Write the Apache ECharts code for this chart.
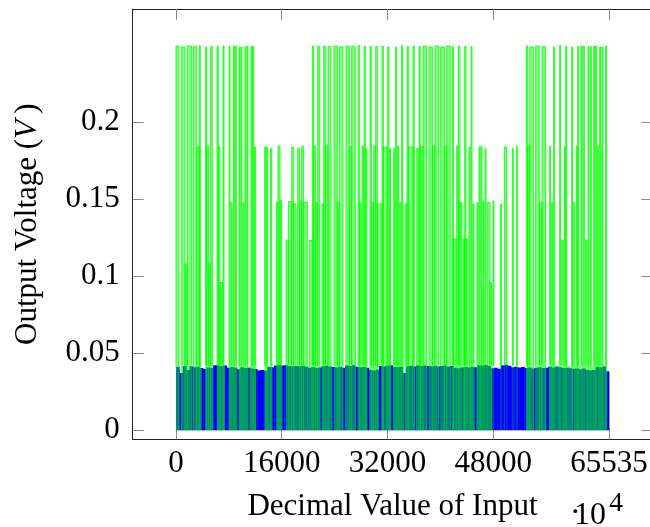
<!DOCTYPE html>
<html>
<head>
<meta charset="utf-8">
<script src="https://cdn.jsdelivr.net/npm/echarts@6/dist/echarts.min.js"></script>
<style>
html,body{margin:0;padding:0;background:#fff;}
#chart{width:650px;height:527px;}
</style>
</head>
<body>
<div id="chart"></div>
<script>
// ---------- data ----------
const xTicks = [0, 16000, 32000, 48000, 65535];
const xTickLabels = ['0', '16000', '32000', '48000', '65535'];
const yTicks = [0, 0.05, 0.1, 0.15, 0.2];
const yTickLabels = ['0', '0.05', '0.1', '0.15', '0.2'];

// blue series: output level per block of 512 input codes
const blueStep = 512;
const blueVolts = [
0.0413,0.0372,0.0418,0.0392,0.0416,0.0409,0.0412,0.0404,0.0398,0.0408,
0.0405,0.0423,0.0420,0.0418,0.0421,0.0406,0.0411,0.0408,0.0396,0.0409,
0.0404,0.0407,0.0401,0.0398,0.0388,0.0392,0.0386,0.0411,0.0409,0.0421,
0.0424,0.0420,0.0423,0.0417,0.0414,0.0418,0.0416,0.0419,0.0413,0.0406,
0.0409,0.0404,0.0408,0.0416,0.0419,0.0414,0.0411,0.0408,0.0412,0.0406,
0.0421,0.0418,0.0422,0.0412,0.0409,0.0411,0.0406,0.0391,0.0388,0.0393,
0.0417,0.0414,0.0419,0.0422,0.0411,0.0409,0.0413,0.0372,0.0416,0.0419,
0.0415,0.0420,0.0417,0.0421,0.0418,0.0416,0.0419,0.0414,0.0417,0.0420,
0.0415,0.0418,0.0406,0.0403,0.0408,0.0411,0.0408,0.0413,0.0409,0.0423,
0.0420,0.0424,0.0418,0.0403,0.0407,0.0400,0.0422,0.0425,0.0419,0.0410,
0.0413,0.0408,0.0411,0.0405,0.0408,0.0402,0.0407,0.0409,0.0404,0.0406,
0.0412,0.0408,0.0414,0.0409,0.0404,0.0407,0.0403,0.0399,0.0402,0.0397,
0.0401,0.0391,0.0388,0.0392,0.0413,0.0410,0.0415,0.0383
];

// green series: low plateau under each burst [start, end, volts]
const greenBase = [
[0,454,0.042],[757,2371,0.042],[2523,3834,0.042],[4440,5550,0.042],[6205,7366,0.042],
[7971,9232,0.042],[9485,10897,0.042],[11099,12058,0.042],[13420,14530,0.042],[15185,16043,0.042],
[16649,18313,0.042],[18414,20180,0.042],[20230,21845,0.042],[22097,23611,0.042],[23913,25275,0.042],
[25629,27142,0.042],[27495,28908,0.042],[29261,30674,0.042],[31077,32540,0.042],[32850,34450,0.042],
[34600,36150,0.042],[36350,38000,0.042],[38250,39800,0.042],[40000,41600,0.042],[41750,43350,0.042],
[43450,45150,0.042],[45450,46700,0.042],[46760,47800,0.042],[53000,54150,0.042],[54400,56000,0.042],
[56450,58250,0.042],[58371,60050,0.042],[60200,61850,0.042],[62000,63700,0.042],[63800,65181,0.042]
];

// green series: pulses [start, end, volts]
const greenPulses = [
[0,454,0.2495],
[858,1362,0.2489],[1362,1715,0.108],[1715,2371,0.2495],
[2623,3128,0.2492],[3128,3532,0.184],[3532,3683,0.2498],
[4440,4641,0.2489],[4641,4944,0.1845],[4944,5247,0.108],[5247,5499,0.2492],
[6205,6407,0.2492],[6407,6659,0.184],[6659,7063,0.096],[7113,7265,0.2495],
[8022,8173,0.2495],[8324,8476,0.148],[8677,8829,0.2495],[8980,9131,0.2495],[9535,9686,0.2489],
[9838,9989,0.2489],[10140,10292,0.148],[10443,10595,0.2492],[10746,10897,0.2492],[11351,11503,0.2492],
[11604,11755,0.2492],[11906,12058,0.184],
[13420,13571,0.184],[13722,13874,0.184],[14328,14479,0.183],
[15185,15438,0.148],[15438,15740,0.1845],[15740,15993,0.149],
[16649,17002,0.1235],[17002,17506,0.1485],[17506,17809,0.184],[17809,18162,0.147],
[18414,18717,0.183],[18717,19020,0.149],[19020,19322,0.1845],[19322,19877,0.148],
[20230,20634,0.1235],[20634,20836,0.2495],[20836,21139,0.1845],[21139,21441,0.148],[21441,21744,0.2492],
[22097,22349,0.147],[22349,22602,0.2495],[22602,23005,0.1845],[23005,23459,0.2492],
[23913,24418,0.2495],[24418,24721,0.148],[24721,25275,0.2489],
[25730,26234,0.2495],[26234,26587,0.184],[26587,27142,0.2492],
[27546,27748,0.25],[27798,28000,0.148],[28151,28353,0.1845],[28454,28656,0.2492],[28706,28908,0.183],
[29362,29564,0.2492],[29564,29917,0.148],[29917,30220,0.1845],[30220,30472,0.2492],[30472,31178,0.147],
[31178,31380,0.2495],[31380,31935,0.184],
[32036,32238,0.2489],[32338,32490,0.183],
[32944,33095,0.183],[33247,33398,0.2489],[33549,33701,0.1845],[33852,34003,0.148],[34155,34306,0.25],
[34659,34962,0.147],[34962,35164,0.2492],[35164,35870,0.184],[35870,36072,0.2495],
[36425,36778,0.183],[36778,36980,0.2492],[36980,37383,0.1845],[37383,37938,0.2495],
[38292,38796,0.2489],[38796,39200,0.1845],[39200,39755,0.2495],
[40057,40612,0.2489],[40612,40965,0.1845],[40965,41520,0.2495],
[41823,41974,0.2492],[41974,42378,0.1243],
[42479,42731,0.1845],[42731,42983,0.2495],[42983,43286,0.148],
[43488,43690,0.1243],[43690,43892,0.2492],[43892,44144,0.1243],
[44346,44497,0.184],[44648,44800,0.2492],[44951,45102,0.147],[45556,45708,0.148],
[45859,46010,0.184],[46162,46313,0.1845],[46464,46616,0.149],
[46767,46919,0.183],[47120,47524,0.148],[47524,47776,0.096],
[47978,48129,0.149],[49088,49239,0.147],
[49693,50046,0.184],[50904,51055,0.183],[51509,51661,0.1845],
[53023,53225,0.2495],[53225,53527,0.1845],[53527,54082,0.2489],
[54436,54991,0.2495],[54991,55394,0.148],[55394,55949,0.2492],
[56554,56706,0.1845],[56857,57009,0.148],[57160,57311,0.2489],[58068,58219,0.25],
[58371,58623,0.1235],
[58774,58926,0.1845],[58976,59127,0.2492],[59884,60035,0.2489],[60035,60338,0.148],
[60590,60742,0.1845],[60792,60944,0.2492],[61297,61448,0.2495],[61599,61801,0.2495],
[62003,62205,0.1235],
[62356,62508,0.2492],[62709,62861,0.2492],[63213,63365,0.2495],[63517,63668,0.2495],
[63819,63971,0.1845],[64122,64273,0.2489],[64475,64626,0.2489],[65030,65181,0.2495]
];

// ---------- build ----------
const blueData = blueVolts.map((v, i) => [i * blueStep, Math.min((i + 1) * blueStep, 65535), v]);
const BASE = 0.042;

const FONT = 'Liberation Serif';
const chart = echarts.init(document.getElementById('chart'), null, {renderer: 'canvas'});

function rectItem(api, fill, y0val) {
  const x0 = api.value(0), x1 = api.value(1), h = api.value(2);
  const a = api.coord([x0, h]);
  const b = api.coord([x1, y0val]);
  return {
    type: 'rect',
    shape: {x: a[0], y: a[1], width: Math.max(b[0] - a[0], 0.5) + 0.4, height: b[1] - a[1]},
    style: {fill: fill}
  };
}

const xMin = -6553.5, xMax = 72088.5;
const yMin = -0.00584, yMax = 0.27357;

const axisLineStyle = {color: '#222', width: 1};
const tickStyle = {color: '#8a8a8a', width: 1};

const option = {
  animation: false,
  backgroundColor: '#fff',
  grid: {left: 132.7, right: -2.3, top: 9, bottom: 87.7, containLabel: false, outerBoundsMode: 'none'},
  xAxis: [{
    type: 'value', min: xMin, max: xMax, position: 'bottom',
    axisLine: {show: true, onZero: false, lineStyle: axisLineStyle},
    axisTick: {show: true, inside: true, length: 11, customValues: xTicks, lineStyle: tickStyle},
    axisLabel: {show: true, customValues: xTicks, formatter: v => xTickLabels[xTicks.indexOf(v)],
      fontFamily: FONT, fontSize: 31, color: '#000', margin: 9, hideOverlap: false},
    splitLine: {show: false},
    name: 'Decimal Value of Input', nameLocation: 'middle', nameGap: 52,
    nameTextStyle: {fontFamily: FONT, fontSize: 31, color: '#000'}
  }, {
    type: 'value', min: xMin, max: xMax, position: 'top',
    axisLine: {show: true, onZero: false, lineStyle: axisLineStyle},
    axisTick: {show: true, inside: true, length: 11, customValues: xTicks, lineStyle: tickStyle},
    axisLabel: {show: false}, splitLine: {show: false}
  }],
  yAxis: [{
    type: 'value', min: yMin, max: yMax, position: 'left',
    axisLine: {show: true, onZero: false, lineStyle: axisLineStyle},
    axisTick: {show: true, inside: true, length: 11, customValues: yTicks, lineStyle: tickStyle},
    axisLabel: {show: true, customValues: yTicks, formatter: v => yTickLabels[yTicks.indexOf(v)],
      fontFamily: FONT, fontSize: 31, color: '#000', margin: 13, hideOverlap: false},
    splitLine: {show: false},
    name: 'Output Voltage ({i|V}\u2009)', nameLocation: 'middle', nameGap: 89, nameRotate: 90,
    nameTextStyle: {fontFamily: FONT, fontSize: 31, color: '#000',
      rich: {i: {fontFamily: FONT, fontSize: 31, fontStyle: 'italic', color: '#000'}}}
  }, {
    type: 'value', min: yMin, max: yMax, position: 'right',
    axisLine: {show: true, onZero: false, lineStyle: axisLineStyle},
    axisTick: {show: true, inside: true, length: 11, customValues: yTicks, lineStyle: tickStyle},
    axisLabel: {show: false}, splitLine: {show: false}
  }],
  graphic: [
    {type: 'text', left: 570, top: 498, style: {text: '\u00b7', font: '32px "Liberation Serif"', fill: '#000'}},
    {type: 'text', left: 574, top: 500, style: {text: '10', font: '32px "Liberation Serif"', fill: '#000'}},
    {type: 'text', left: 609, top: 490, style: {text: '4', font: '28px "Liberation Serif"', fill: '#000'}}
  ],
  series: [{
    type: 'custom', name: 'blue', xAxisIndex: 0, yAxisIndex: 0, z: 1, clip: true,
    encode: {x: [0, 1], y: 2},
    data: blueData,
    renderItem: (params, api) => rectItem(api, '#0000ff', 0)
  }, {
    type: 'custom', name: 'greenBase', xAxisIndex: 0, yAxisIndex: 0, z: 2, clip: true,
    encode: {x: [0, 1], y: 2},
    data: greenBase,
    renderItem: (params, api) => rectItem(api, 'rgba(0,255,0,0.5)', 0)
  }, {
    type: 'custom', name: 'green', xAxisIndex: 0, yAxisIndex: 0, z: 3, clip: true,
    encode: {x: [0, 1], y: 2},
    data: greenPulses,
    renderItem: (params, api) => {
      const x0 = api.value(0), x1 = api.value(1), h = api.value(2);
      const p0 = api.coord([x0, 0]);
      const q0 = api.coord([x0, BASE]);
      const p1 = api.coord([x0, h]);
      const p2 = api.coord([x1, h]);
      const q3 = api.coord([x1, BASE]);
      const p3 = api.coord([x1, 0]);
      return {
        type: 'group',
        children: [{
          type: 'rect',
          shape: {x: p1[0], y: p1[1], width: p2[0] - p1[0], height: q0[1] - p1[1]},
          style: {fill: 'rgba(0,255,0,0.5)'}
        }, {
          type: 'polyline',
          shape: {points: [q0, p1, p2, q3]},
          style: {stroke: 'rgba(0,255,0,0.9)', lineWidth: 0.9, fill: null}
        }, {
          type: 'polyline',
          shape: {points: [p0, q0]},
          style: {stroke: 'rgba(0,255,0,0.28)', lineWidth: 0.9, fill: null}
        }, {
          type: 'polyline',
          shape: {points: [q3, p3]},
          style: {stroke: 'rgba(0,255,0,0.28)', lineWidth: 0.9, fill: null}
        }]
      };
    }
  }]
};
chart.setOption(option);
</script>
</body>
</html>
